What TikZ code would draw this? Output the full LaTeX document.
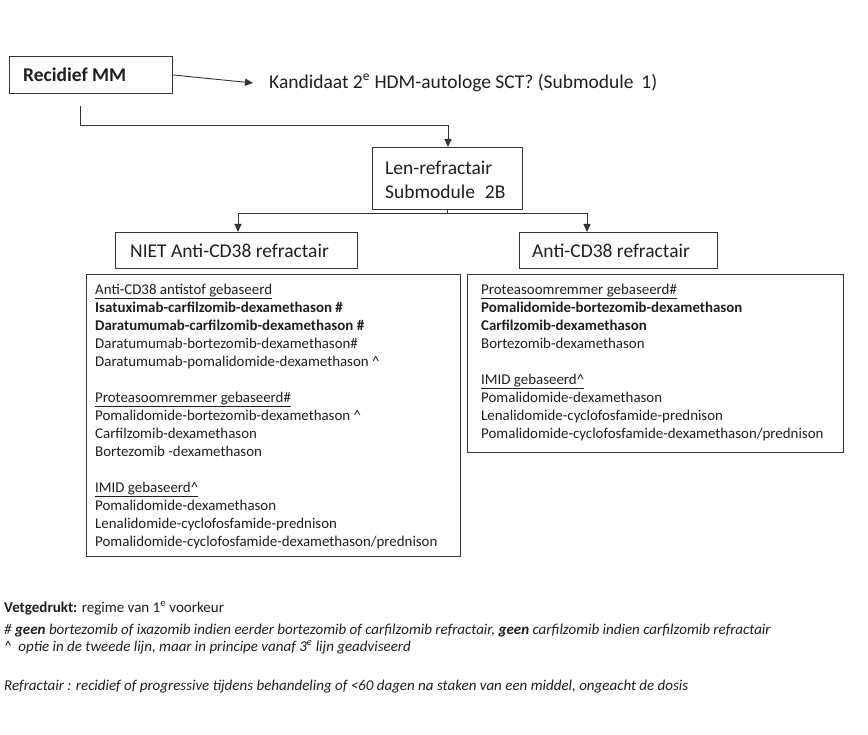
\documentclass[tikz,border=0pt]{standalone}
\usepackage{fontspec}
\setmainfont{Carlito}
\usetikzlibrary{arrows.meta}
\begin{document}
\begin{tikzpicture}[x=1pt,y=-1pt,
  line/.style={draw=black!80,line width=0.9pt},
  arr/.style={line,-{Triangle[length=8pt,width=7pt]}},
  box/.style={draw=black!80,line width=0.9pt,inner sep=0pt,anchor=north west},
  big/.style={font=\fontsize{19.5}{24}\selectfont,text=black!88},
  list/.style={inner sep=0pt,anchor=north west,align=left,font=\fontsize{14.9}{18}\selectfont,text=black!88},
  foot/.style={inner sep=0pt,anchor=base west,font=\fontsize{15}{17}\selectfont,text=black!88}
]
\useasboundingbox (0,0) rectangle (868,735);
\fill[white] (0,0) rectangle (868,735);

% top row
\node[box,minimum width=163pt,minimum height=37pt] (rec) at (9,56) {};
\node[big,inner sep=0pt,anchor=west,font=\fontsize{19.5}{24}\selectfont\bfseries] (rect) at (23,75) {Recidief MM};
\node[big,inner sep=0pt,anchor=west] (kand) at (269,83) {Kandidaat 2\textsuperscript{e} HDM-autologe SCT? (Submodule\hspace{0.4em}1)};
\coordinate (kin) at (253,83);
\draw[arr] (rec.east) -- (kin);

% Len-refractair
\node[box,minimum width=150pt,minimum height=62pt] (len) at (372,147) {};
\node[big,inner sep=0pt,anchor=north west,align=left] (lent) at (385,161) {Len-refractair\\Submodule\hspace{0.5em}2B};
\coordinate (r1) at (80,106);
\coordinate (r2) at (448,125);
\draw[arr] (r1) |- (r2) -- (r2 |- len.north);

% second level
\node[box,minimum width=242pt,minimum height=36pt] (niet) at (115,232) {};
\node[big,inner sep=0pt,anchor=west] (niett) at (130,251) {NIET Anti-CD38 refractair};
\node[box,minimum width=198pt,minimum height=36pt] (anti) at (519,232) {};
\node[big,inner sep=0pt,anchor=west] (antit) at (532,251) {Anti-CD38 refractair};
\coordinate (jl) at (238,213);
\coordinate (jr) at (587,213);
\draw[line] (jl) -- (jr);
\draw[line] (len.south) -- (len.south |- jl);
\draw[arr] (jl) -- (jl |- niet.north);
\draw[arr] (jr) -- (jr |- anti.north);

% list boxes
\node[box,minimum width=374pt,minimum height=282pt] (lbox) at (86,274) {};
\node[list] (ltext) at (95,284) {%
\underline{Anti-CD38 antistof gebaseerd}\\
\textbf{Isatuximab-carfilzomib-dexamethason \#}\\
\textbf{Daratumumab-carfilzomib-dexamethason \#}\\
Daratumumab-bortezomib-dexamethason\#\\
Daratumumab-pomalidomide-dexamethason \textasciicircum\\[18pt]
\underline{Proteasoomremmer gebaseerd\#}\\
Pomalidomide-bortezomib-dexamethason \textasciicircum\\
Carfilzomib-dexamethason\\
Bortezomib -dexamethason\\[18pt]
\underline{IMID gebaseerd\textasciicircum}\\
Pomalidomide-dexamethason\\
Lenalidomide-cyclofosfamide-prednison\\
Pomalidomide-cyclofosfamide-dexamethason/prednison};

\node[box,minimum width=376pt,minimum height=178pt] (rbox) at (467,274) {};
\node[list] (rtext) at (481,284) {%
\underline{Proteasoomremmer gebaseerd\#}\\
\textbf{Pomalidomide-bortezomib-dexamethason}\\
\textbf{Carfilzomib-dexamethason}\\
Bortezomib-dexamethason\\[18pt]
\underline{IMID gebaseerd\textasciicircum}\\
Pomalidomide-dexamethason\\
Lenalidomide-cyclofosfamide-prednison\\
Pomalidomide-cyclofosfamide-dexamethason/prednison};

% footer
\node[foot] (f1) at (4,612) {\textbf{Vetgedrukt:} regime van 1\textsuperscript{e} voorkeur};
\node[foot,font=\fontsize{15}{17}\selectfont\itshape] (f2) at (4,634) {\# \textbf{geen} bortezomib of ixazomib indien eerder bortezomib of carfilzomib refractair, \textbf{geen} carfilzomib indien carfilzomib refractair};
\node[foot,font=\fontsize{15}{17}\selectfont\itshape] (f3) at (4,651) {\textasciicircum\ \ optie in de tweede lijn, maar in principe vanaf 3\textsuperscript{e} lijn geadviseerd};
\node[foot,font=\fontsize{15}{17}\selectfont\itshape] (f4) at (4,690) {Refractair : recidief of progressive tijdens behandeling of <60 dagen na staken van een middel, ongeacht de dosis};
\end{tikzpicture}
\end{document}
